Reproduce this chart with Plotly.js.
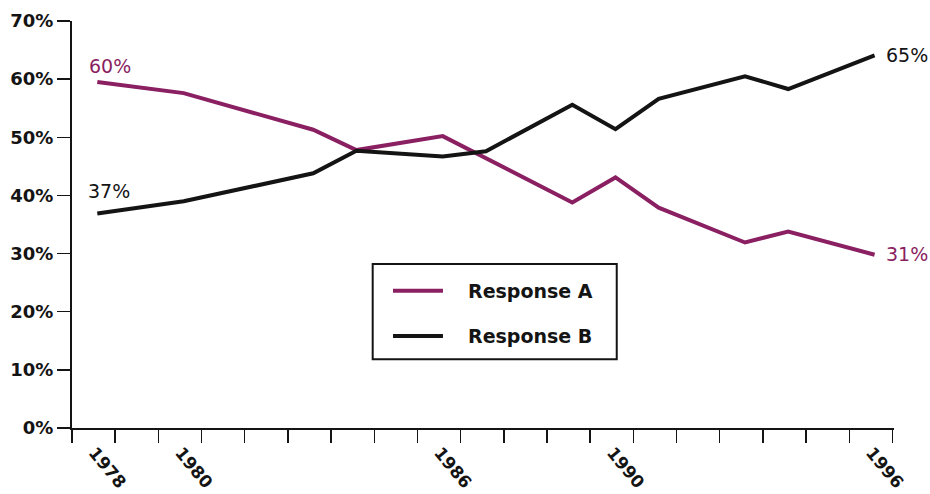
<!DOCTYPE html>
<html>
<head>
<meta charset="utf-8">
<script src="https://cdn.plot.ly/plotly-3.0.1.min.js"></script>
<style>
  html, body { margin: 0; padding: 0; background: #ffffff; }
  #chart { width: 930px; height: 494px; }
</style>
</head>
<body>
<div id="chart"></div>
<script>
// ---- data ----
const seriesNames = ['Response A', 'Response B'];
const yearsA = [1978, 1980, 1983, 1984, 1986, 1989, 1990, 1991, 1993, 1994, 1996];
const valuesA = [59.5, 57.6, 51.3, 47.8, 50.2, 38.8, 43.1, 37.9, 31.9, 33.8, 29.8];
const yearsB = [1978, 1980, 1983, 1984, 1986, 1987, 1989, 1990, 1991, 1993, 1994, 1996];
const valuesB = [36.9, 39.0, 43.8, 47.7, 46.7, 47.6, 55.6, 51.4, 56.6, 60.5, 58.3, 64.1];
const labelYears = [1978, 1980, 1986, 1990, 1996];
const startLabels = ['60%', '37%'];
const endLabels = ['31%', '65%'];
const yTicks = [0, 10, 20, 30, 40, 50, 60, 70];

// ---- styling ----
const PURPLE = '#8a1f62';
const BLACK = '#141414';
const FONT = 'DejaVu Sans, Arial, sans-serif';
const X0 = 1977.414, X1 = 1996.45;

const traces = [
  { x: yearsA, y: valuesA, name: seriesNames[0], type: 'scatter', mode: 'lines',
    line: { color: PURPLE, width: 4 }, showlegend: false, hoverinfo: 'skip' },
  { x: yearsB, y: valuesB, name: seriesNames[1], type: 'scatter', mode: 'lines',
    line: { color: BLACK, width: 4 }, showlegend: false, hoverinfo: 'skip' }
];

const nA = yearsA.length - 1, nB = yearsB.length - 1;
const annotations = [
  { x: yearsA[0], y: valuesA[0], text: startLabels[0], showarrow: false, xanchor: 'center', yanchor: 'middle',
    xshift: 13, yshift: 16, font: { family: FONT, size: 19, color: PURPLE } },
  { x: yearsB[0], y: valuesB[0], text: startLabels[1], showarrow: false, xanchor: 'center', yanchor: 'middle',
    xshift: 12, yshift: 22, font: { family: FONT, size: 19, color: BLACK } },
  { x: yearsA[nA], y: valuesA[nA], text: endLabels[0], showarrow: false, xanchor: 'left', yanchor: 'middle',
    xshift: 9, yshift: 1, font: { family: FONT, size: 19, color: PURPLE } },
  { x: yearsB[nB], y: valuesB[nB], text: endLabels[1], showarrow: false, xanchor: 'left', yanchor: 'middle',
    xshift: 9, yshift: 0, font: { family: FONT, size: 19, color: BLACK } },
  // legend texts
  { xref: 'paper', yref: 'paper', x: 0.4793, y: 0.3373, text: seriesNames[0], showarrow: false,
    xanchor: 'left', yanchor: 'middle', font: { family: FONT, size: 19, color: BLACK, weight: 'bold' } },
  { xref: 'paper', yref: 'paper', x: 0.4793, y: 0.2260, text: seriesNames[1], showarrow: false,
    xanchor: 'left', yanchor: 'middle', font: { family: FONT, size: 19, color: BLACK, weight: 'bold' } }
];

const shapes = [
  { type: 'rect', xref: 'paper', yref: 'paper', x0: 0.3658, x1: 0.6627, y0: 0.1688, y1: 0.4029,
    line: { color: BLACK, width: 2 }, fillcolor: 'rgba(255,255,255,0)' },
  { type: 'line', xref: 'paper', yref: 'paper', x0: 0.3905, x1: 0.4513, y0: 0.3373, y1: 0.3373,
    line: { color: PURPLE, width: 4 } },
  { type: 'line', xref: 'paper', yref: 'paper', x0: 0.3905, x1: 0.4513, y0: 0.2260, y1: 0.2260,
    line: { color: BLACK, width: 4 } }
];

const layout = {
  width: 930, height: 494,
  margin: { l: 72, r: 36, t: 21, b: 66 },
  paper_bgcolor: '#ffffff', plot_bgcolor: '#ffffff',
  showlegend: false,
  font: { family: FONT, color: BLACK },
  xaxis: {
    range: [X0, X1], showgrid: false, zeroline: false,
    showline: true, linecolor: BLACK, linewidth: 2,
    tickmode: 'array', tickvals: labelYears, ticktext: labelYears.map(String),
    ticks: '', tickangle: 50, ticklabelstandoff: 6, ticklabelshift: -3,
    tickfont: { family: FONT, size: 17, color: BLACK, weight: 'bold' },
    minor: { tickmode: 'linear', tick0: X0, dtick: 1, ticks: 'outside', ticklen: 13,
             tickwidth: 1.5, tickcolor: BLACK, showgrid: false },
    fixedrange: true
  },
  yaxis: {
    range: [0, 70], showgrid: false, zeroline: false,
    showline: true, linecolor: BLACK, linewidth: 2,
    tickmode: 'array', tickvals: yTicks, ticktext: yTicks.map(v => v + '%'),
    ticks: 'outside', ticklen: 13, tickwidth: 1.5, tickcolor: BLACK,
    tickfont: { family: FONT, size: 18, color: BLACK, weight: 'bold' },
    fixedrange: true
  },
  annotations: annotations,
  shapes: shapes
};

Plotly.newPlot('chart', traces, layout, { displayModeBar: false, staticPlot: true });
</script>
</body>
</html>
